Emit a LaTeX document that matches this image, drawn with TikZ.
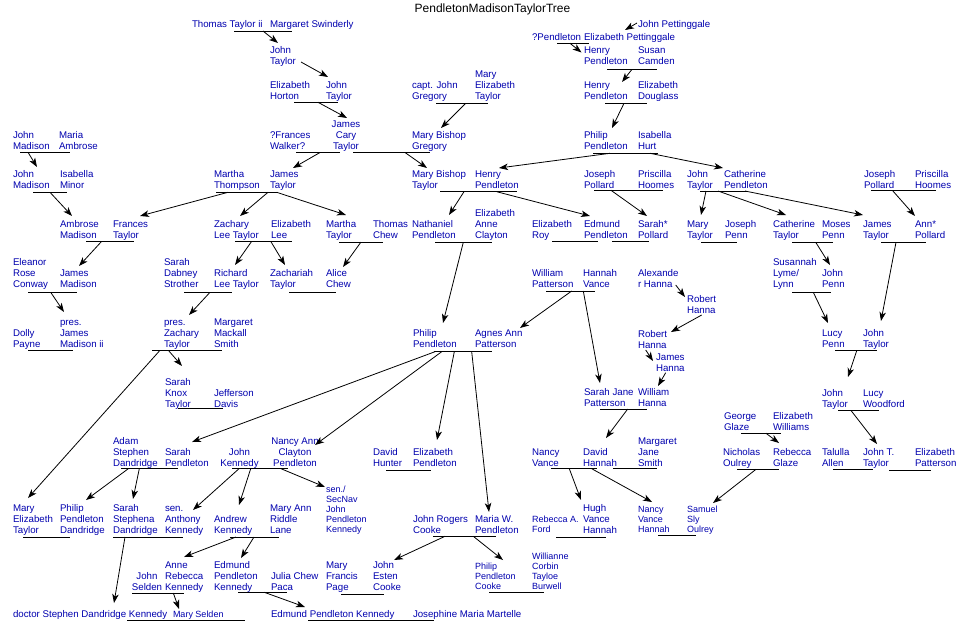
\documentclass[tikz,border=0pt]{standalone}
\usepackage{fontspec}
\newfontfamily\lsans{Liberation Sans}
\usetikzlibrary{arrows.meta}
\definecolor{nblue}{RGB}{0,0,175}
\newcommand\pnormal{\lsans\fontsize{9.7}{11}\selectfont}
\newcommand\psmall{\lsans\fontsize{9}{10}\selectfont}
\newcommand\ptitle{\lsans\fontsize{12}{14}\selectfont}
\newcommand\couple[4]{\draw[cpl] (#3,#2) coordinate (#1-l) -- (#4,#2) coordinate (#1-r);}
\newcommand\kid[3]{\coordinate (#1-s) at (#2); \coordinate (#1-t) at (#3); \draw[arr] (#1-s) -- (#1-t);}
\begin{document}
\begin{tikzpicture}[x=1pt,y=-1pt,
  pb/.style={inner sep=0pt, outer sep=0pt, text=nblue, execute at end node=\strut},
  pn/.style={pb, anchor=south west, align=left, font=\pnormal, yshift=-3.3pt},
  ps/.style={pb, anchor=south west, align=left, font=\psmall, yshift=-3pt},
  pc/.style={pb, anchor=south, align=center, font=\pnormal, yshift=-3.3pt},
  cpl/.style={line width=1pt},
  arr/.style={line width=0.8pt, -{Stealth[length=9pt,width=6.5pt,inset=2.5pt]}}]
\fill[white] (0,0) rectangle (972,632);
\useasboundingbox (0,0) rectangle (972,632);
\node[font=\ptitle, anchor=base, inner sep=0pt] (title) at (492.5,12.7) {PendletonMadisonTaylorTree};
% ---- people ----
\node[pn] (thomasT) at (192,27) {Thomas Taylor ii};
\node[pn] (margS) at (270,27) {Margaret Swinderly};
\node[pn] (johnPet) at (638,27) {John Pettinggale};
\node[pn] (qPend) at (532,40.5) {?Pendleton};
\node[pn] (elizPet) at (584,40.5) {Elizabeth Pettinggale};
\node[pn] (johnT1) at (270,64.5) {John\\Taylor};
\node[pn] (henryP1) at (584,64.5) {Henry\\Pendleton};
\node[pn] (susanC) at (638,64.5) {Susan\\Camden};
\node[pn] (elizH) at (270,99) {Elizabeth\\Horton};
\node[pn] (johnT2) at (326,99) {John\\Taylor};
\node[pn] (captJG) at (412,99) {capt. John\\Gregory};
\node[pn] (maryET) at (475,99) {Mary\\Elizabeth\\Taylor};
\node[pn] (henryP2) at (584,99) {Henry\\Pendleton};
\node[pn] (elizD) at (638,99) {Elizabeth\\Douglass};
\node[pn] (johnM1) at (13,149) {John\\Madison};
\node[pn] (mariaA) at (59,149) {Maria\\Ambrose};
\node[pn] (francesW) at (270,149) {?Frances\\Walker?};
\node[pc] (jamesCT) at (346,149) {James\\Cary\\Taylor};
\node[pn] (maryBG) at (412,149) {Mary Bishop\\Gregory};
\node[pn] (philipP1) at (584,149) {Philip\\Pendleton};
\node[pn] (isabH) at (638,149) {Isabella\\Hurt};
\node[pn] (johnM2) at (13,188) {John\\Madison};
\node[pn] (isabM) at (60,188) {Isabella\\Minor};
\node[pn] (marthaT) at (214,188) {Martha\\Thompson};
\node[pn] (jamesT1) at (270,188) {James\\Taylor};
\node[pn] (maryBT) at (412,188) {Mary Bishop\\Taylor};
\node[pn] (henryP3) at (475,188) {Henry\\Pendleton};
\node[pn] (josephP1) at (584,188) {Joseph\\Pollard};
\node[pn] (priscH1) at (638,188) {Priscilla\\Hoomes};
\node[pn] (johnT3) at (687,188) {John\\Taylor};
\node[pn] (cathP) at (724,188) {Catherine\\Pendleton};
\node[pn] (josephP2) at (864,188) {Joseph\\Pollard};
\node[pn] (priscH2) at (915,188) {Priscilla\\Hoomes};
\node[pn] (ambroseM) at (60,238) {Ambrose\\Madison};
\node[pn] (francesT) at (113,238) {Frances\\Taylor};
\node[pn] (zacharyLT) at (214,238) {Zachary\\Lee Taylor};
\node[pn] (elizL) at (271,238) {Elizabeth\\Lee};
\node[pn] (marthaT2) at (326,238) {Martha\\Taylor};
\node[pn] (thomasC) at (373,238) {Thomas\\Chew};
\node[pn] (nathP) at (412,238) {Nathaniel\\Pendleton};
\node[pn] (elizAC) at (475,238) {Elizabeth\\Anne\\Clayton};
\node[pn] (elizR) at (532,238) {Elizabeth\\Roy};
\node[pn] (edmundP) at (584,238) {Edmund\\Pendleton};
\node[pn] (sarahP) at (638,238) {Sarah*\\Pollard};
\node[pn] (maryT) at (687,238) {Mary\\Taylor};
\node[pn] (josephPenn) at (725,238) {Joseph\\Penn};
\node[pn] (cathT) at (773,238) {Catherine\\Taylor};
\node[pn] (mosesP) at (822,238) {Moses\\Penn};
\node[pn] (jamesT2) at (863,238) {James\\Taylor};
\node[pn] (annP) at (915,238) {Ann*\\Pollard};
\node[pn] (eleanorRC) at (13,287) {Eleanor\\Rose\\Conway};
\node[pn] (jamesM) at (60,287) {James\\Madison};
\node[pn] (sarahDS) at (164,287) {Sarah\\Dabney\\Strother};
\node[pn] (richardLT) at (214,287) {Richard\\Lee Taylor};
\node[pn] (zachariahT) at (270,287) {Zachariah\\Taylor};
\node[pn] (aliceC) at (326,287) {Alice\\Chew};
\node[pn] (williamP) at (532,287) {William\\Patterson};
\node[pn] (hannahV) at (583,287) {Hannah\\Vance};
\node[pn] (alexH) at (638,287) {Alexande\\r Hanna};
\node[pn] (susannahL) at (773,287) {Susannah\\Lyme/\\Lynn};
\node[pn] (johnPenn) at (822,287) {John\\Penn};
\node[pn] (robertH1) at (687,313) {Robert\\Hanna};
\node[pn] (dollyP) at (13,347) {Dolly\\Payne};
\node[pn] (presJM) at (60,347) {pres.\\James\\Madison ii};
\node[pn] (presZT) at (164,347) {pres.\\Zachary\\Taylor};
\node[pn] (margMS) at (214,347) {Margaret\\Mackall\\Smith};
\node[pn] (philipP2) at (413,347) {Philip\\Pendleton};
\node[pn] (agnesAP) at (475,347) {Agnes Ann\\Patterson};
\node[pn] (robertH2) at (638,348) {Robert\\Hanna};
\node[pn] (lucyP) at (822,347) {Lucy\\Penn};
\node[pn] (johnT4) at (863,347) {John\\Taylor};
\node[pn] (jamesH) at (656,371) {James\\Hanna};
\node[pn] (sarahKT) at (165,407) {Sarah\\Knox\\Taylor};
\node[pn] (jeffD) at (214,407) {Jefferson\\Davis};
\node[pn] (sarahJP) at (584,406.5) {Sarah Jane\\Patterson};
\node[pn] (williamH) at (638,406.5) {William\\Hanna};
\node[pn] (johnT5) at (822,407) {John\\Taylor};
\node[pn] (lucyW) at (863,407) {Lucy\\Woodford};
\node[pn] (georgeG) at (724,430.5) {George\\Glaze};
\node[pn] (elizW) at (773,430.5) {Elizabeth\\Williams};
\node[pn] (adamSD) at (113,466) {Adam\\Stephen\\Dandridge};
\node[pn] (sarahPend) at (165,466) {Sarah\\Pendleton};
\node[pc] (johnK) at (239.5,466) {John\\Kennedy};
\node[pc] (nancyACP) at (295,466) {Nancy Ann\\Clayton\\Pendleton};
\node[pn] (davidHu) at (373,466) {David\\Hunter};
\node[pn] (elizPend) at (413,466) {Elizabeth\\Pendleton};
\node[pn] (nancyV) at (532,466) {Nancy\\Vance};
\node[pn] (davidHa) at (583,466) {David\\Hannah};
\node[pn] (margJS) at (638,466) {Margaret\\Jane\\Smith};
\node[pn] (nicholasO) at (723,466) {Nicholas\\Oulrey};
\node[pn] (rebeccaG) at (773,466) {Rebecca\\Glaze};
\node[pn] (talullaA) at (822,466) {Talulla\\Allen};
\node[pn] (johnTT) at (863,466) {John T.\\Taylor};
\node[pn] (elizPat) at (915,466) {Elizabeth\\Patterson};
\node[pn] (maryElT) at (13,533) {Mary\\Elizabeth\\Taylor};
\node[pn] (philipPD) at (60,533) {Philip\\Pendleton\\Dandridge};
\node[pn] (sarahSD) at (113,533) {Sarah\\Stephena\\Dandridge};
\node[pn] (senAK) at (165,533) {sen.\\Anthony\\Kennedy};
\node[pn] (andrewK) at (214,533) {Andrew\\Kennedy};
\node[pn] (maryARL) at (270,533) {Mary Ann\\Riddle\\Lane};
\node[ps] (senJPK) at (326,532) {sen./\\SecNav\\John\\Pendleton\\Kennedy};
\node[pn] (johnRC) at (413,533) {John Rogers\\Cooke};
\node[pn] (mariaWP) at (475,533) {Maria W.\\Pendleton};
\node[ps] (rebeccaAF) at (532,532) {Rebecca A.\\Ford};
\node[pn] (hughVH) at (583,533) {Hugh\\Vance\\Hannah};
\node[ps] (nancyVH) at (638,532.5) {Nancy\\Vance\\Hannah};
\node[ps] (samuelSO) at (687,532.5) {Samuel\\Sly\\Oulrey};
\node[pc] (johnS) at (147,590) {John\\Selden};
\node[pn] (anneRK) at (165,590) {Anne\\Rebecca\\Kennedy};
\node[pn] (edmundPK) at (214,590) {Edmund\\Pendleton\\Kennedy};
\node[pn] (juliaCP) at (271,590) {Julia Chew\\Paca};
\node[pn] (maryFP) at (326,590) {Mary\\Francis\\Page};
\node[pn] (johnEC) at (373,590) {John\\Esten\\Cooke};
\node[ps] (philipPC) at (475,589) {Philip\\Pendleton\\Cooke};
\node[ps] (willianne) at (532,589) {Willianne\\Corbin\\Tayloe\\Burwell};
\node[pn] (doctorSDK) at (13,617) {doctor Stephen Dandridge Kennedy};
\node[ps] (maryS) at (173,617) {Mary Selden};
\node[pn] (edmundPK2) at (271,617) {Edmund Pendleton Kennedy};
\node[pn] (josephineMM) at (413,617) {Josephine Maria Martelle};
% ---- couple lines ----
\couple{c1}{31}{234}{292}
\couple{c2}{43.3}{557}{589}
\couple{c3}{69.3}{607}{657}
\couple{c4}{102.3}{294}{338}
\couple{c5}{103.3}{436}{488}
\couple{c6}{103.3}{605}{647}
\couple{c7}{152.3}{20}{70}
\couple{c8}{152.5}{296}{340}
\couple{c9}{152.5}{353}{430}
\couple{c10}{153.3}{593}{658}
\couple{c11}{192.3}{33}{67}
\couple{c12}{192.3}{216}{278}
\couple{c13}{191.7}{440}{517}
\couple{c14}{190.3}{594}{663}
\couple{c15}{191}{700}{747}
\couple{c16}{190.3}{871}{936}
\couple{c17}{241.3}{86}{134}
\couple{c18}{241.3}{235}{292}
\couple{c19}{242}{339}{383}
\couple{c20}{242.3}{435}{492}
\couple{c21}{241}{552}{598}
\couple{c22}{241}{612}{649}
\couple{c23}{242.3}{701}{737}
\couple{c24}{242.3}{792}{833}
\couple{c25}{242.3}{881}{926}
\couple{c26}{292.3}{28}{77}
\couple{c27}{292.3}{184}{232}
\couple{c28}{292.3}{289}{336}
\couple{c29}{291}{546}{595}
\couple{c30}{292.3}{792}{831}
\couple{c31}{350.3}{28}{73}
\couple{c32}{350.3}{152}{222}
\couple{c33}{351.7}{434}{492}
\couple{c34}{350.7}{835}{877}
\couple{c35}{408.3}{178}{223}
\couple{c36}{409}{600}{647}
\couple{c37}{410.5}{838}{879}
\couple{c38}{433.3}{741}{781}
\couple{c39}{468.7}{121}{178}
\couple{c40}{468.7}{232}{288}
\couple{c41}{470.3}{386}{431}
\couple{c42}{468.7}{551}{597}
\couple{c43}{468.5}{613}{657}
\couple{c44}{469.3}{737}{779}
\couple{c45}{469.3}{833}{873}
\couple{c46}{470}{889}{931}
\couple{c47}{537}{23}{70}
\couple{c48}{537}{113}{183}
\couple{c49}{537}{230}{279}
\couple{c50}{536.3}{433}{496}
\couple{c51}{537}{556}{606}
\couple{c52}{535}{658}{696}
\couple{c53}{593}{132}{184}
\couple{c54}{592.3}{238}{287}
\couple{c55}{594}{341}{384}
\couple{c56}{592.7}{489}{544}
\couple{c57}{620}{127}{245}
\couple{c58}{620}{308}{434}
% ---- parent -> child arrows ----
\kid{a1}{263,31}{278,43}
\kid{a2}{301,62}{328,77}
\kid{a3}{318,102.3}{347,118}
\kid{a4}{320,152.5}{293,168}
\kid{a5}{637,23}{625,30}
\kid{a6}{570,43.3}{581.5,52.5}
\kid{a7}{632,69.3}{622,82}
\kid{a8}{624,103.3}{612,128}
\kid{a9}{465.7,103.3}{441,128}
\kid{a10}{405,152.5}{427,168}
\kid{a11}{610,153.3}{499,168}
\kid{a12}{650,153.3}{723,168}
\kid{a13}{28,152.3}{37,167}
\kid{a14}{50,192.3}{72,216}
\kid{a15}{228,192.3}{140,216}
\kid{a16}{268,192.3}{240,216}
\kid{a17}{276.7,192.3}{346,215}
\kid{a18}{464,191.7}{449,215}
\kid{a19}{496.7,191.7}{590,216}
\kid{a20}{611,190.3}{647,216}
\kid{a21}{706,191}{701,215}
\kid{a22}{718,191}{786,215}
\kid{a23}{745,191}{863,215}
\kid{a24}{892.3,190.3}{915,216}
\kid{a25}{101.7,241.3}{79,266}
\kid{a26}{251.7,241.3}{235,265}
\kid{a27}{270.7,241.3}{285,265}
\kid{a28}{361,242}{343,267}
\kid{a29}{463.3,242.3}{443,323}
\kid{a30}{815.7,242.3}{830,265}
\kid{a31}{896,242.3}{881,321}
\kid{a32}{50.7,292.3}{64,312}
\kid{a33}{210,292.3}{189,315}
\kid{a34}{571.7,291}{520,328}
\kid{a35}{583.3,291}{600,383}
\kid{a36}{675.7,285}{685,297}
\kid{a37}{701.7,315}{671,332}
\kid{a38}{813.3,292.3}{828,323}
\kid{a39}{645.7,350}{653,361}
\kid{a40}{665.7,372.7}{658,386}
\kid{a41}{856.7,350.7}{848,377}
\kid{a42}{168.3,350.3}{182,366}
\kid{a43}{160,350.3}{28,498}
\kid{a44}{627.7,409}{606,438}
\kid{a45}{851,410.5}{877,444}
\kid{a46}{766,433.3}{779,443}
\kid{a47}{435,351.7}{192,442}
\kid{a48}{441.7,351.7}{315,445}
\kid{a49}{454.3,351.7}{437,440}
\kid{a50}{471.7,351.7}{489,512}
\kid{a51}{128.3,468.7}{86,500}
\kid{a52}{139.3,468.7}{133,499}
\kid{a53}{239,468.7}{193,510}
\kid{a54}{250.7,468.7}{239,505}
\kid{a55}{281,468.7}{325,487}
\kid{a56}{569.3,468.7}{581,500}
\kid{a57}{591.7,468.7}{652,502}
\kid{a58}{756,469.3}{713,503}
\kid{a59}{125,537}{114,603}
\kid{a60}{236,537}{184,557}
\kid{a61}{254,537}{241,558}
\kid{a62}{445,536.3}{394,560}
\kid{a63}{473.3,536.3}{503,560}
\kid{a64}{173.3,593}{179,609}
\kid{a65}{264.3,592.3}{305,607}
\end{tikzpicture}
\end{document}
